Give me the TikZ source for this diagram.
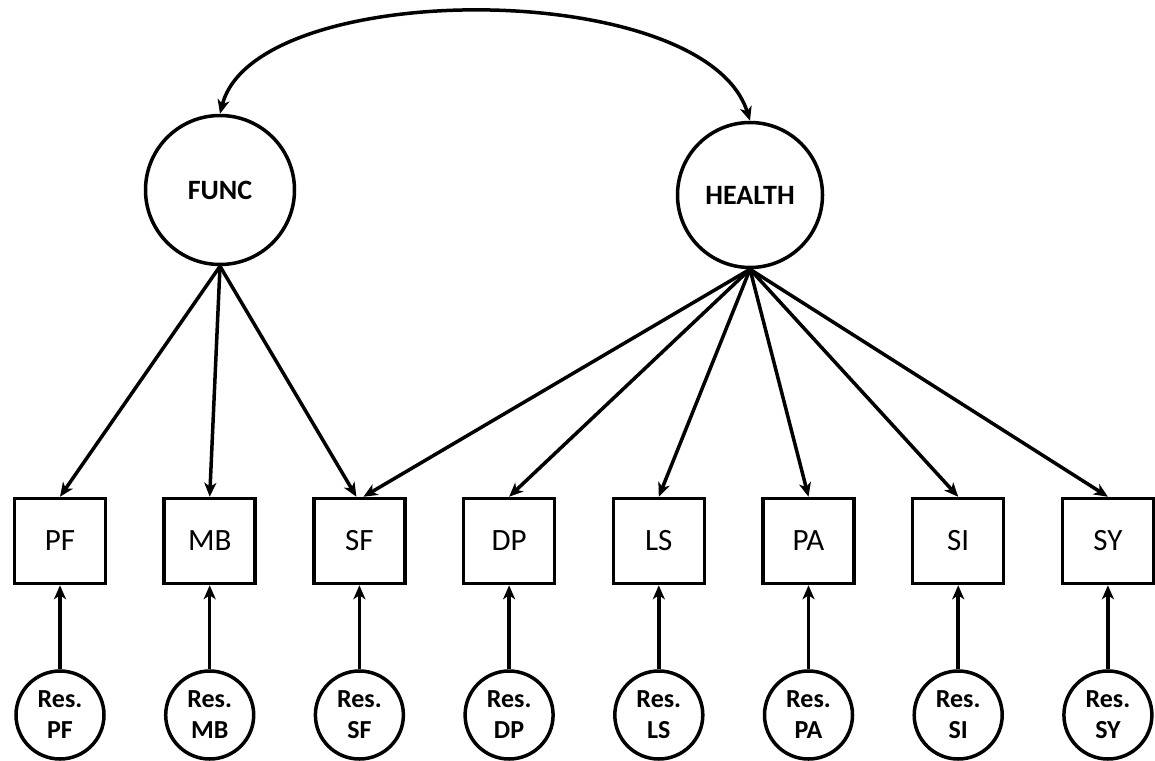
\documentclass[tikz,border=0pt]{standalone}
\usepackage{fontspec}
\setmainfont{Carlito}
\usetikzlibrary{arrows.meta}
\begin{document}
\begin{tikzpicture}[x=1pt,y=-1pt,
  lat/.style={draw,line width=3.5pt,circle,minimum size=149pt,inner sep=0pt,font=\fontsize{28}{32}\selectfont\bfseries},
  obs/.style={draw,line width=3.5pt,rectangle,minimum width=91pt,minimum height=85pt,inner sep=0pt,font=\fontsize{31}{36}\selectfont},
  res/.style={draw,line width=3.5pt,circle,minimum size=88pt,inner sep=0pt,align=center,font=\fontsize{26}{31}\selectfont\bfseries},
  tip/.style={Stealth[length=14pt,width=12pt,inset=4pt]},
  arr/.style={line width=3.5pt,-{Stealth[length=14pt,width=12pt,inset=4pt]}},
  darr/.style={line width=3.5pt,{Stealth[length=14pt,width=12pt,inset=4pt]}-{Stealth[length=14pt,width=12pt,inset=4pt]}}
]
\useasboundingbox[fill=white] (0,0) rectangle (1155,760);
\node[lat] (FUNC) at (220,190) {FUNC};
\node[lat,minimum size=145pt] (HEALTH) at (750,195) {HEALTH};
\foreach \n [count=\i from 0] in {PF,MB,SF,DP,LS,PA,SI,SY}{
  \node[obs] (\n) at ({60+149.7*\i},541) {\n};
  \node[res] (r\n) at ({60+149.7*\i},715) {Res.\\\n};
  \draw[arr] (r\n) -- (\n);
}
\draw[darr] (FUNC.north) .. controls (255,-23) and (705,-23) .. (HEALTH.north);
\draw[arr] (FUNC.south) -- (PF.north);
\draw[arr] (FUNC.south) -- (MB.north);
\draw[arr] (FUNC.south) -- ([xshift=-3pt]SF.north);
\draw[arr] (HEALTH.south) -- ([xshift=4pt]SF.north);
\foreach \n in {DP,LS,PA,SI,SY}{
  \draw[arr] (HEALTH.south) -- (\n.north);
}
\end{tikzpicture}
\end{document}
